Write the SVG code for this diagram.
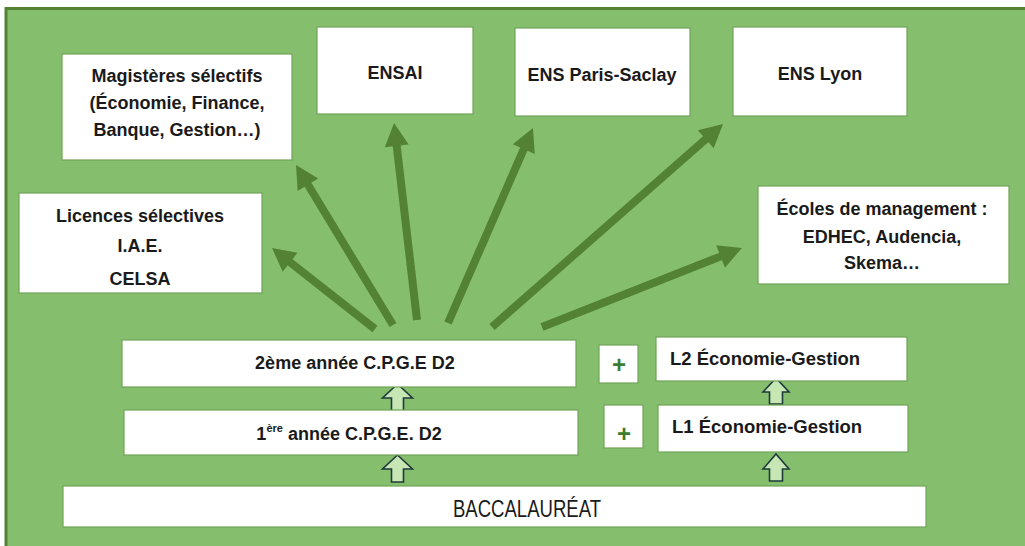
<svg xmlns="http://www.w3.org/2000/svg" width="1025" height="546" viewBox="0 0 1025 546">
<style>
.box{fill:#ffffff;stroke:#6fa356;stroke-width:1.2}
.t{font-family:"Liberation Sans",Arial,sans-serif;font-weight:bold;font-size:18px;fill:#1a1a1a;text-anchor:middle}
.tl{font-family:"Liberation Sans",Arial,sans-serif;font-weight:bold;font-size:18.5px;fill:#1a1a1a}
.plus{font-family:"Liberation Sans",Arial,sans-serif;font-weight:bold;font-size:24px;fill:#3a7d2f;text-anchor:middle}
.con{stroke:#548235;stroke-width:8;fill:none;marker-end:url(#ah)}
.up{fill:#c6e6b4;stroke:#1f3a3a;stroke-width:1.6;stroke-linejoin:miter}
</style>
<defs>
<marker id="ah" markerUnits="userSpaceOnUse" markerWidth="26" markerHeight="26" viewBox="-1 -13 26 26" refX="1" refY="0" orient="auto">
<path d="M0,-12 L23,0 L0,12 z" fill="#548235"/>
</marker>
</defs>
<rect x="0" y="0" width="1025" height="546" fill="#ffffff"/>
<rect x="6" y="8.5" width="1040" height="560" fill="#85bf6e" stroke="#548235" stroke-width="3"/>

<g id="connectors">
<line class="con" x1="375" y1="329" x2="289.3" y2="261.6"/>
<line class="con" x1="393" y1="325" x2="307.4" y2="183.8"/>
<line class="con" x1="417" y1="320" x2="396.6" y2="144.9"/>
<line class="con" x1="448" y1="323" x2="524.2" y2="148.2"/>
<line class="con" x1="492" y1="327" x2="706.5" y2="138.5"/>
<line class="con" x1="542" y1="327" x2="721.5" y2="256.1"/>
<path class="up" d="M391.5,411 L391.5,398 L382.5,398 L397.5,384 L412.5,398 L403.5,398 L403.5,411 Z"/>
<path class="up" d="M391.5,482 L391.5,469 L382.5,469 L397.5,455 L412.5,469 L403.5,469 L403.5,482 Z"/>
<path class="up" d="M769.5,404 L769.5,392 L763,392 L776,378 L789,392 L782.5,392 L782.5,404 Z"/>
<path class="up" d="M769.5,481 L769.5,469 L763,469 L776,454 L789,469 L782.5,469 L782.5,481 Z"/>
</g>

<g id="magisteres">
<rect class="box" x="62" y="54" width="230" height="106"/>
<text class="t" x="177" y="82">Magistères sélectifs</text>
<text class="t" x="177" y="109">(Économie, Finance,</text>
<text class="t" x="177" y="136">Banque, Gestion…)</text>
</g>
<g id="ensai">
<rect class="box" x="317" y="27" width="156" height="87"/>
<text class="t" x="395" y="79" font-size="17.5">ENSAI</text>
</g>
<g id="ens-paris-saclay">
<rect class="box" x="515" y="28" width="175" height="88"/>
<text class="t" x="602" y="81" font-size="17.5">ENS Paris-Saclay</text>
</g>
<g id="ens-lyon">
<rect class="box" x="733" y="27" width="174" height="89"/>
<text class="t" x="820" y="80" font-size="17.5">ENS Lyon</text>
</g>
<g id="licences">
<rect class="box" x="19" y="193" width="243" height="100"/>
<text class="t" x="140" y="222">Licences sélectives</text>
<text class="t" x="140" y="252">I.A.E.</text>
<text class="t" x="140" y="285">CELSA</text>
</g>
<g id="ecoles">
<rect class="box" x="758" y="186" width="251" height="98"/>
<text class="t" x="882" y="215">Écoles de management :</text>
<text class="t" x="882" y="243">EDHEC, Audencia,</text>
<text class="t" x="882" y="269">Skema…</text>
</g>
<g id="cpge2">
<rect class="box" x="122" y="340" width="454" height="47"/>
<text class="t" x="355" y="369" font-size="19.5">2ème année C.P.G.E D2</text>
</g>
<g id="cpge1">
<rect class="box" x="124" y="410" width="454" height="45"/>
<text class="t" x="349" y="440" font-size="19">1<tspan font-size="11" dy="-8">ère</tspan><tspan dy="8"> année C.P.G.E. D2</tspan></text>
</g>
<g id="plus2">
<rect class="box" x="599" y="345" width="39" height="38"/>
<text class="plus" x="619" y="373">+</text>
</g>
<g id="plus1">
<rect class="box" x="604" y="405" width="39" height="43"/>
<text class="plus" x="624" y="442">+</text>
</g>
<g id="l2">
<rect class="box" x="656" y="337" width="251" height="44"/>
<text class="tl" x="670" y="365">L2 Économie-Gestion</text>
</g>
<g id="l1">
<rect class="box" x="658" y="405" width="250" height="47"/>
<text class="tl" x="672" y="433">L1 Économie-Gestion</text>
</g>
<g id="bac">
<rect class="box" x="63" y="486" width="863" height="41"/>
<text x="527" y="516.5" font-family="'Liberation Sans',Arial,sans-serif" font-size="23" fill="#1a1a1a" text-anchor="middle" textLength="148" lengthAdjust="spacingAndGlyphs">BACCALAURÉAT</text>
</g>
</svg>
